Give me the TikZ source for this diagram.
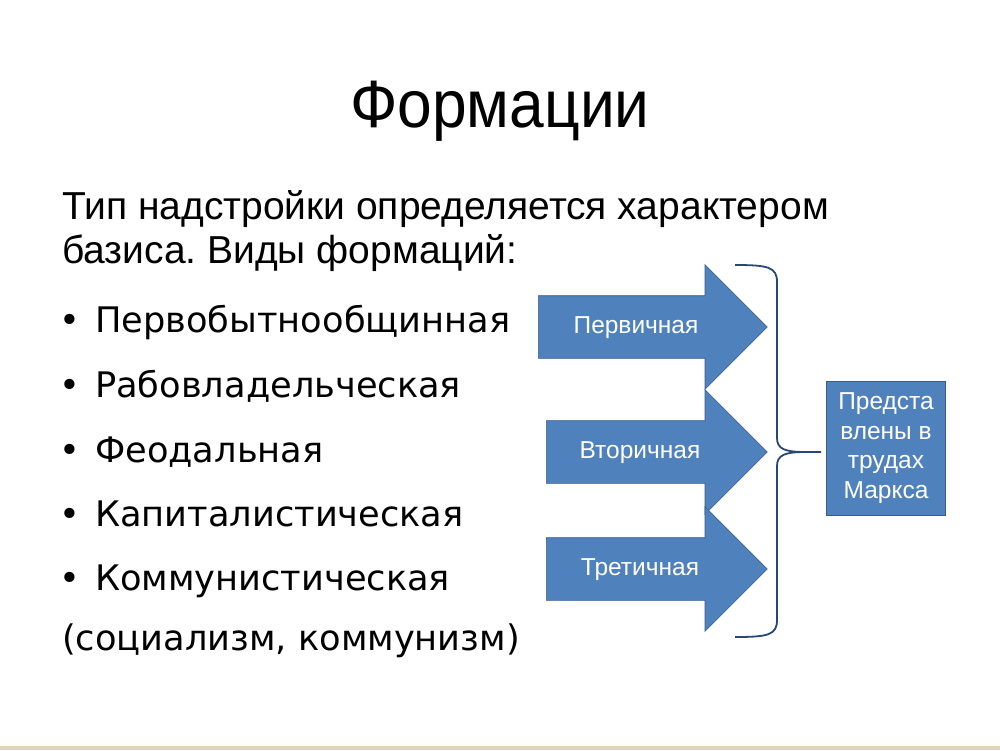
\documentclass[tikz,border=0pt]{standalone}
\usepackage{fontspec}
\setmainfont{Liberation Sans}
\newfontfamily\narrowfont{Liberation Sans}[FakeStretch=0.93]
\newfontfamily\listfont{DejaVu Sans}
\usetikzlibrary{shapes.arrows, positioning, calc}
\definecolor{arrowblue}{RGB}{79, 129, 189}
\definecolor{arrowedge}{RGB}{56, 93, 138}
\definecolor{bracenavy}{RGB}{40, 70, 118}
\definecolor{footline}{RGB}{222, 212, 192}
\frenchspacing

\begin{document}
\begin{tikzpicture}[x=1pt, y=-1pt,
  stagearrow/.style={single arrow, draw=arrowedge, fill=arrowblue, line width=0.6pt,
    single arrow head extend=31pt, single arrow tip angle=90, minimum width=124pt,
    inner xsep=0pt, inner ysep=0pt, text height=62pt, text depth=0pt},
  stagelabel/.style={text=white, font=\fontsize{24.5}{26}\selectfont},
  listitem/.style={anchor=base west, inner sep=0pt, font=\listfont\fontsize{35.2}{40}\selectfont}]
  \useasboundingbox (0, 0) rectangle (1000, 750);
  \fill[white] (0, 0) rectangle (1000, 750);
  \fill[footline] (0, 746) rectangle (1000, 750);

  % Title
  \node[font=\narrowfont\fontsize{67}{70}\selectfont, anchor=base] (title) at (500, 127) {Формации};

  % Intro
  \node[font=\fontsize{39}{40}\selectfont, anchor=base west, inner sep=0pt] (intro1) at (62, 219) {Тип надстройки определяется характером};
  \node[font=\fontsize{39}{40}\selectfont, anchor=base west, inner sep=0pt] (intro2) at (62, 263) {базиса. Виды формаций:};

  % List
  \node[listitem] (item1) at (59, 332) {\makebox[36pt][l]{•}Первобытнообщинная};
  \node[listitem] (item2) at (59, 397) {\makebox[36pt][l]{•}Рабовладельческая};
  \node[listitem] (item3) at (59, 462) {\makebox[36pt][l]{•}Феодальная};
  \node[listitem] (item4) at (59, 526) {\makebox[36pt][l]{•}Капиталистическая};
  \node[listitem] (item5) at (59, 590) {\makebox[36pt][l]{•}Коммунистическая};
  \node[listitem] (item6) at (62, 650) {(социализм, коммунизм)};

  % Arrows
  \node[stagearrow, minimum height=229pt, anchor=tail] (primary) at (538, 327) {};
  \node[stagearrow, minimum height=221pt, anchor=tail] (secondary) at (546, 452) {};
  \node[stagearrow, minimum height=221pt, anchor=tail] (tertiary) at (546, 569) {};
  \node[stagelabel] (primarylabel) at (636, 328) {Первичная};
  \node[stagelabel] (secondarylabel) at (640, 453) {Вторичная};
  \node[stagelabel] (tertiarylabel) at (640, 570) {Третичная};

  % Result
  \node[draw=arrowedge, fill=arrowblue, line width=0.6pt, minimum width=119pt, minimum height=134pt,
    align=center, text=white, font=\fontsize{24.5}{29.5}\selectfont] (marx) at (886, 448)
    {Предста\\влены в\\трудах\\Маркса};

  % Brace
  \coordinate (bracetop) at (735, 265);
  \coordinate (bracebot) at (735, 637);
  \coordinate (bracetip) at (805, 452);
  \draw[bracenavy, line width=1.8pt] (bracetop) .. controls (768, 265) and (777, 267) .. (777, 282)
    -- (777, 438) .. controls (777, 449) and (785, 452) .. (bracetip) -- ([xshift=-5pt]marx.west |- bracetip);
  \draw[bracenavy, line width=1.8pt] (bracebot) .. controls (768, 637) and (777, 635) .. (777, 620)
    -- (777, 466) .. controls (777, 455) and (785, 452) .. (bracetip);
\end{tikzpicture}
\end{document}
